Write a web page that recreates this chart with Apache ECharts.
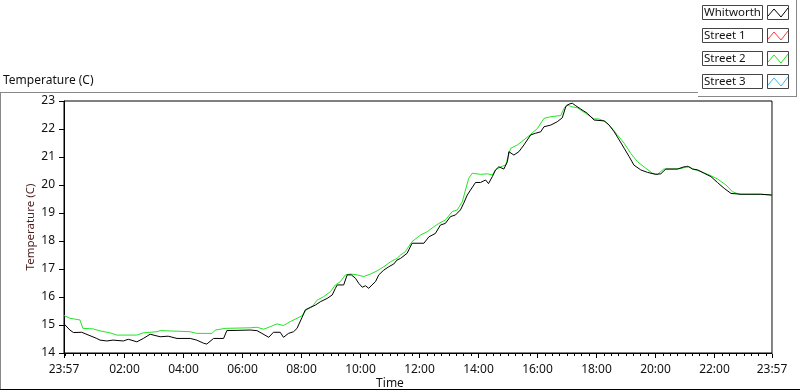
<!DOCTYPE html>
<html>
<head>
<meta charset="utf-8">
<script src="https://cdn.jsdelivr.net/npm/echarts@6/dist/echarts.min.js"></script>
<style>
html,body{margin:0;padding:0;background:#fff;}
#chartmain{width:800px;height:392px;}
</style>
</head>
<body>
<div id="chartmain"></div>
<script>
// hours counted from the 23:57 start of the log
var seriesNames=['Whitworth','Street 1','Street 2','Street 3'];
var seriesColors=['#000000','#ff3b3b','#22e622','#3ab4ff'];
var whitworthHours=[0,0.20,0.32,0.60,1.11,1.22,1.45,1.66,2.01,2.18,
	2.47,2.69,2.92,3.26,3.53,3.83,4.28,4.50,4.73,4.84,
	5.07,5.41,5.52,6.31,6.54,6.71,6.77,6.94,7.10,7.33,
	7.44,7.61,7.78,7.90,7.95,8.07,8.18,8.35,8.52,8.69,
	8.92,9.09,9.20,9.26,9.48,9.60,9.74,9.88,9.99,10.11,
	10.22,10.33,10.44,10.56,10.67,10.84,11.01,11.18,11.29,11.41,
	11.63,11.80,12.20,12.37,12.59,12.76,12.93,13.10,13.27,13.44,
	13.55,13.67,13.78,13.95,14.12,14.29,14.39,14.52,14.63,14.74,
	14.91,15.03,15.08,15.25,15.42,15.59,15.82,15.99,16.16,16.27,
	16.50,16.72,16.89,17.01,17.12,17.23,17.35,17.52,17.74,17.97,
	18.31,18.48,18.65,18.82,18.99,19.16,19.32,19.55,19.78,20.06,
	20.23,20.40,20.80,21.02,21.18,21.31,21.48,21.70,21.93,22.15,
	22.38,22.61,22.95,23.62,24.0];
var whitworthTemp=[15.04,14.82,14.73,14.74,14.52,14.46,14.43,14.46,14.43,14.49,
	14.40,14.52,14.67,14.58,14.60,14.52,14.52,14.46,14.35,14.32,
	14.52,14.52,14.80,14.82,14.80,14.70,14.64,14.56,14.74,14.74,
	14.56,14.70,14.76,14.88,15.00,15.27,15.54,15.63,15.71,15.83,
	15.95,16.07,16.31,16.43,16.43,16.79,16.79,16.67,16.49,16.35,
	16.40,16.31,16.43,16.55,16.79,16.96,17.08,17.18,17.32,17.38,
	17.56,17.92,17.92,18.15,18.27,18.57,18.63,18.87,18.93,19.11,
	19.35,19.64,19.82,20.09,20.09,20.18,20.05,20.30,20.54,20.65,
	20.57,20.83,21.19,21.07,21.19,21.43,21.79,21.85,21.90,22.08,
	22.14,22.26,22.40,22.80,22.89,22.92,22.83,22.71,22.56,22.32,
	22.29,22.14,21.90,21.61,21.31,21.01,20.71,20.54,20.45,20.38,
	20.40,20.57,20.57,20.65,20.65,20.57,20.54,20.42,20.30,20.09,
	19.88,19.70,19.67,19.67,19.64];
var street1Hours=[],street1Temp=[];
var street2Hours=[0,0.20,0.54,0.64,0.99,1.22,1.56,1.79,2.47,2.68,
	3.15,3.26,3.80,4.28,4.50,5.02,5.13,5.47,6.31,6.54,
	6.77,6.99,7.22,7.44,7.67,7.90,8.07,8.21,8.41,8.58,
	8.80,9.03,9.20,9.37,9.54,9.71,9.94,10.16,10.39,10.61,
	10.84,11.07,11.29,11.41,11.57,11.80,12.08,12.31,12.54,12.71,
	12.93,13.16,13.33,13.50,13.61,13.72,13.84,14.12,14.35,14.52,
	14.63,14.80,14.97,15.14,15.37,15.59,15.82,16.05,16.27,16.50,
	16.84,16.95,17.06,17.18,17.40,17.68,17.97,18.13,18.36,18.53,
	18.76,18.99,19.21,19.44,19.72,19.95,20.12,20.33,20.74,20.97,
	21.14,21.31,21.59,21.87,22.16,22.44,22.66,22.89,23.28,23.62,
	24.0];
var street2Temp=[15.34,15.24,15.18,14.88,14.86,14.79,14.72,14.64,14.64,14.72,
	14.76,14.80,14.78,14.76,14.70,14.70,14.82,14.88,14.90,14.92,
	14.85,14.94,15.04,14.98,15.12,15.24,15.33,15.54,15.65,15.89,
	16.01,16.19,16.43,16.55,16.79,16.82,16.79,16.73,16.82,16.93,
	17.08,17.26,17.38,17.50,17.62,17.98,18.21,18.33,18.51,18.63,
	18.75,19.05,19.11,19.40,19.82,20.24,20.42,20.38,20.40,20.36,
	20.54,20.65,20.71,21.31,21.43,21.61,21.81,22.02,22.38,22.44,
	22.48,22.74,22.88,22.80,22.76,22.56,22.36,22.36,22.26,22.08,
	21.79,21.49,21.13,20.83,20.60,20.42,20.38,20.57,20.57,20.60,
	20.68,20.57,20.48,20.36,20.21,20.00,19.76,19.67,19.67,19.67,
	19.64];
var street3Hours=[],street3Temp=[];
var startMinute=23*60+57;   // 23:57
var majorStep=120, minorStep=15;

var fontName='"Noto Sans", "Open Sans", sans-serif';

window.onload=function(){
	InitChart();
};
function pairUp(hours,temps){
	var out=[];
	for(var i=0;i<hours.length;i++){out.push([hours[i],temps[i]]);}
	return out;
}
function clockOf(i){
	return (i+startMinute)%1440;
}
function InitChart()
{
	// one category per minute of the day, for the time ticks
	var minuteLabels=[];
	for(var i=0;i<=1440;i++){
		var m=clockOf(i),h=Math.floor(m/60),mm=m%60;
		minuteLabels.push((h<10?'0':'')+h+':'+(mm<10?'0':'')+mm);
	}
	// midnight sits right on top of the 23:57 start, so it gets no label
	function isMajor(i){ return i==0||i==1440||(clockOf(i)%majorStep==0&&clockOf(i)!=0); }
	function isMinor(i){ return clockOf(i)%minorStep==0; }

	var allData=[pairUp(whitworthHours,whitworthTemp),pairUp(street1Hours,street1Temp),
		pairUp(street2Hours,street2Temp),pairUp(street3Hours,street3Temp)];
	var series=[];
	var drawOrder=[1,3,2,0];
	for(var j=0;j<drawOrder.length;j++){
		var i=drawOrder[j];
		series.push({
			name:seriesNames[i],
			type:'line',
			data:allData[i],
			showSymbol:false,
			symbol:'none',
			lineStyle:{color:seriesColors[i],width:1},
			itemStyle:{color:seriesColors[i]},
			z:2+j
		});
	}
	// legend panel drawn as boxes
	var graphics=[];
	for(var i=0;i<seriesNames.length;i++){
		var top=5+i*23;
		graphics.push({
			type:'rect',left:702,top:top,z:100,
			shape:{x:0,y:0,width:60,height:14},
			style:{fill:'#fff',stroke:'#444',lineWidth:1}
		});
		graphics.push({
			type:'text',x:704,y:top+7.5,z:101,
			style:{text:seriesNames[i],font:'11.5px '+fontName,fill:'#111',verticalAlign:'middle'}
		});
		graphics.push({
			type:'rect',left:767,top:top,z:100,
			shape:{x:0,y:0,width:21,height:14},
			style:{fill:'#fff',stroke:'#444',lineWidth:1}
		});
		graphics.push({
			type:'polyline',z:101,
			shape:{points:[[768,top+11],[774,top+4],[781,top+12],[788,top+3]]},
			style:{stroke:seriesColors[i],lineWidth:1,fill:null}
		});
	}
	// frame lines around the panel
	graphics.push({type:'line',z:90,shape:{x1:0,y1:92.5,x2:698,y2:92.5},style:{stroke:'#888',lineWidth:1}});
	graphics.push({type:'line',z:90,shape:{x1:698,y1:96.5,x2:797,y2:96.5},style:{stroke:'#888',lineWidth:1}});
	graphics.push({type:'line',z:90,shape:{x1:796.5,y1:0,x2:796.5,y2:97},style:{stroke:'#888',lineWidth:1}});
	graphics.push({type:'line',z:90,shape:{x1:0.5,y1:92,x2:0.5,y2:390},style:{stroke:'#888',lineWidth:1}});
	graphics.push({type:'line',z:90,shape:{x1:0,y1:389.5,x2:800,y2:389.5},style:{stroke:'#000',lineWidth:1}});
	graphics.push({type:'line',z:90,shape:{x1:772.5,y1:101,x2:772.5,y2:354},style:{stroke:'#888',lineWidth:1}});

	var gridBox={left:64,top:101,right:28,bottom:39};
	function makeGrid(extra){
		var g={left:gridBox.left,top:gridBox.top,right:gridBox.right,bottom:gridBox.bottom,
			containLabel:false,outerBoundsMode:'none'};
		for(var key in extra){g[key]=extra[key];}
		return g;
	}
	option = {
		backgroundColor:'#fff',
		animation:false,
		title:{
			text:'Temperature (C)',
			left:3,
			top:75,
			padding:0,
			textStyle:{fontFamily:fontName,fontSize:12,fontWeight:'normal',color:'#111'}
		},
		grid:[
			makeGrid({show:true,borderColor:'#000',borderWidth:1,backgroundColor:'#fff'}),
			makeGrid({show:false}),
			makeGrid({show:false})
		],
		xAxis:[{
			type:'value',
			gridIndex:0,
			min:0,
			max:24,
			name:'Time',
			nameLocation:'middle',
			nameGap:25,
			nameMoveOverlap:false,
			nameTextStyle:{fontFamily:fontName,fontSize:12,color:'#111',padding:[0,56,0,0]},
			axisLine:{show:true,lineStyle:{color:'#000'}},
			axisTick:{show:false},
			axisLabel:{show:false},
			splitLine:{show:false}
		},{
			type:'category',
			gridIndex:1,
			data:minuteLabels,
			boundaryGap:false,
			position:'bottom',
			axisLine:{show:false},
			axisTick:{show:true,length:5,interval:function(idx){return isMajor(idx);},lineStyle:{color:'#000'}},
			axisLabel:{show:true,interval:function(idx){return isMajor(idx);},margin:11,
				fontFamily:fontName,fontSize:12,color:'#111'},
			splitLine:{show:false}
		},{
			type:'category',
			gridIndex:2,
			data:minuteLabels,
			boundaryGap:false,
			position:'bottom',
			axisLine:{show:false},
			axisTick:{show:true,length:3,interval:function(idx){return isMinor(idx);},lineStyle:{color:'#000'}},
			axisLabel:{show:false},
			splitLine:{show:false}
		}],
		yAxis:[{
			type:'value',
			gridIndex:0,
			min:14,
			max:23,
			interval:1,
			name:'Temperature (C)',
			nameLocation:'middle',
			nameGap:27,
			nameMoveOverlap:false,
			nameTextStyle:{fontFamily:fontName,fontSize:11.5,color:'#4a1c1c'},
			axisLine:{show:true,lineStyle:{color:'#000'}},
			axisTick:{show:true,length:5,lineStyle:{color:'#000'}},
			axisLabel:{margin:9,fontFamily:fontName,fontSize:12,color:'#111'},
			splitLine:{show:false}
		},{
			type:'value',gridIndex:1,min:14,max:23,show:false
		},{
			type:'value',gridIndex:2,min:14,max:23,show:false
		}],
		graphic:graphics,
		series:series
	};
	var myChart = echarts.init(document.getElementById('chartmain'));
	myChart.setOption(option);
}
</script>
</body>
</html>
